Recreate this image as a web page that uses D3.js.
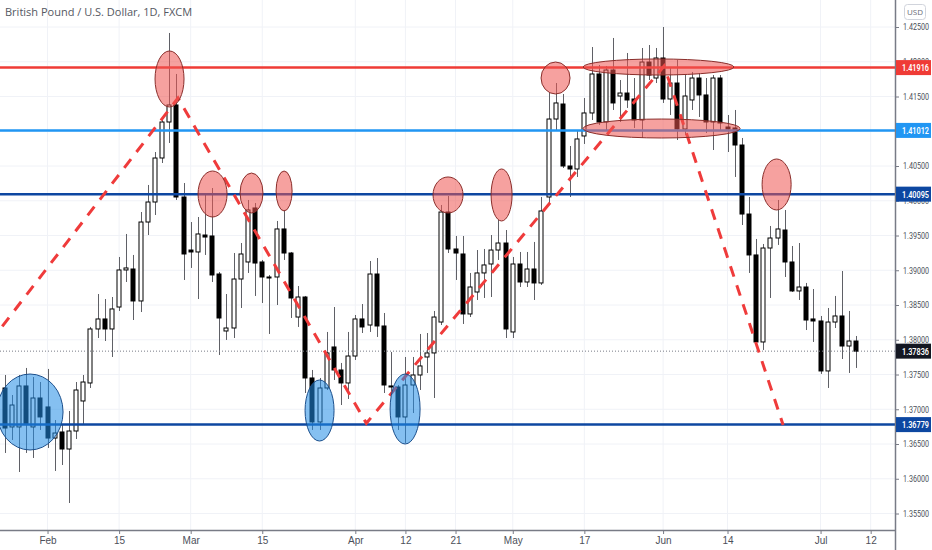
<!DOCTYPE html>
<html lang="en">
<head>
<meta charset="utf-8">
<title>British Pound / U.S. Dollar, 1D, FXCM</title>
<script src="https://d3js.org/d3.v7.min.js"></script>
<style>
  body { margin: 0; background: #fff; }
  svg { display: block; font-family: "Open Sans", "Noto Sans", sans-serif; }
</style>
</head>
<body>
<script>

// ---- data (GBPUSD daily) ----
const dates = [
  "2021-01-21","2021-01-22","2021-01-25","2021-01-26","2021-01-27","2021-01-28","2021-01-29",
  "2021-02-01","2021-02-02","2021-02-03","2021-02-04","2021-02-05","2021-02-08","2021-02-09","2021-02-10","2021-02-11","2021-02-12",
  "2021-02-15","2021-02-16","2021-02-17","2021-02-18","2021-02-19","2021-02-22","2021-02-23","2021-02-24","2021-02-25","2021-02-26",
  "2021-03-01","2021-03-02","2021-03-03","2021-03-04","2021-03-05","2021-03-08","2021-03-09","2021-03-10","2021-03-11","2021-03-12",
  "2021-03-15","2021-03-16","2021-03-17","2021-03-18","2021-03-19","2021-03-22","2021-03-23","2021-03-24","2021-03-25","2021-03-26",
  "2021-03-29","2021-03-30","2021-03-31",
  "2021-04-01","2021-04-02","2021-04-05","2021-04-06","2021-04-07","2021-04-08","2021-04-09","2021-04-12","2021-04-13","2021-04-14",
  "2021-04-15","2021-04-16","2021-04-19","2021-04-20","2021-04-21","2021-04-22","2021-04-23","2021-04-26","2021-04-27","2021-04-28",
  "2021-04-29","2021-04-30",
  "2021-05-03","2021-05-04","2021-05-05","2021-05-06","2021-05-07","2021-05-10","2021-05-11","2021-05-12","2021-05-13","2021-05-14",
  "2021-05-17","2021-05-18","2021-05-19","2021-05-20","2021-05-21","2021-05-24","2021-05-25","2021-05-26","2021-05-27","2021-05-28",
  "2021-05-31",
  "2021-06-01","2021-06-02","2021-06-03","2021-06-04","2021-06-07","2021-06-08","2021-06-09","2021-06-10","2021-06-11","2021-06-14",
  "2021-06-15","2021-06-16","2021-06-17","2021-06-18","2021-06-21","2021-06-22","2021-06-23","2021-06-24","2021-06-25","2021-06-28",
  "2021-06-29","2021-06-30",
  "2021-07-01","2021-07-02","2021-07-05","2021-07-06","2021-07-07","2021-07-08"
];
// empty future slots on the right of the chart
const futureDates = ["2021-07-09","2021-07-12","2021-07-13","2021-07-14","2021-07-15"];

const opens = [
  1.36730,1.37306,1.36745,1.36745,1.37335,1.36745,1.37162,
  1.37033,1.36586,1.36673,1.36428,1.36687,1.37119,1.37378,1.38155,1.38299,1.38155,
  1.38471,1.39004,1.39018,1.38558,1.39694,1.39982,1.40615,1.41133,1.41378,1.40054,
  1.39291,1.39263,1.39507,1.39493,1.38946,1.38126,1.38169,1.38874,1.39119,1.39896,
  1.39119,1.38903,1.38903,1.39594,1.39248,1.38327,1.38615,1.37450,1.36817,1.37306,
  1.37896,1.37565,1.37378,
  1.37766,1.38299,1.38212,1.38946,1.38198,1.37335,1.37320,1.36889,1.37349,1.37493,
  1.37752,1.37810,1.38255,1.39838,1.39306,1.39234,1.38371,1.38687,1.38961,1.39090,
  1.39291,1.39392,
  1.38112,1.39090,1.38831,1.39018,1.38817,1.40054,1.41176,1.41392,1.40500,1.40457,
  1.40932,1.41263,1.41824,1.41133,1.41881,1.41507,1.41550,1.41464,1.41162,1.41996,
  1.41766,
  1.42054,1.41464,1.41694,1.41032,1.41450,1.41766,1.41522,1.41133,1.41766,1.41061,
  1.41047,1.40802,1.39809,1.39220,1.37968,1.39320,1.39464,1.39579,1.39119,1.38702,
  1.38759,1.38299,
  1.38270,1.37551,1.38255,1.38342,1.37910,1.37982
];
const highs = [
  1.37421,1.37493,1.37205,1.37493,1.37594,1.37464,1.37392,
  1.37580,1.36845,1.36774,1.36975,1.37392,1.37493,1.38184,1.38658,1.38586,1.38615,
  1.39191,1.39522,1.39220,1.39838,1.40227,1.40701,1.41191,1.42414,1.41824,1.40255,
  1.39694,1.39766,1.40083,1.40183,1.38975,1.38658,1.39248,1.39392,1.40011,1.39968,
  1.39148,1.38932,1.39709,1.39867,1.39263,1.38773,1.38630,1.37565,1.37450,1.38112,
  1.38471,1.37666,1.38112,
  1.38356,1.38514,1.39133,1.39176,1.38385,1.37824,1.37349,1.37752,1.37752,1.38083,
  1.38097,1.38414,1.39939,1.40068,1.39493,1.39493,1.38961,1.39291,1.39306,1.39507,
  1.39723,1.39579,
  1.39191,1.39263,1.39263,1.39407,1.40054,1.41550,1.41694,1.41536,1.40788,1.41018,
  1.41478,1.42212,1.41953,1.41939,1.42342,1.41737,1.42126,1.41766,1.42198,1.42241,
  1.42198,
  1.42500,1.41910,1.42025,1.41809,1.41853,1.41838,1.41766,1.41809,1.41809,1.41234,
  1.41306,1.40903,1.40054,1.39450,1.39378,1.39637,1.40011,1.39867,1.39349,1.39392,
  1.38817,1.38730,
  1.38342,1.38457,1.38630,1.38989,1.38414,1.38054
];
const lows = [
  1.36457,1.36371,1.36558,1.36097,1.36371,1.36299,1.36702,
  1.36443,1.36112,1.36198,1.35651,1.36572,1.36788,1.37306,1.38025,1.37982,1.37752,
  1.38414,1.38831,1.38284,1.38399,1.39507,1.39795,1.40543,1.40831,1.40011,1.38860,
  1.39033,1.38586,1.39220,1.38831,1.37781,1.37997,1.38025,1.38457,1.38961,1.38630,
  1.38529,1.38083,1.38500,1.39148,1.38313,1.38184,1.37234,1.36702,1.36702,1.37277,
  1.37421,1.37061,1.37148,
  1.37709,1.38097,1.38112,1.38040,1.37234,1.37205,1.36702,1.36515,1.36946,1.37277,
  1.37522,1.37162,1.38212,1.39248,1.38860,1.38227,1.38327,1.38572,1.38601,1.38615,
  1.39148,1.38025,
  1.38025,1.38759,1.38759,1.38572,1.38788,1.39939,1.41018,1.40471,1.40054,1.40342,
  1.40817,1.41162,1.41090,1.41018,1.41306,1.41133,1.41335,1.41047,1.40903,1.41737,
  1.41694,
  1.41407,1.41234,1.40874,1.40946,1.41306,1.41205,1.40975,1.40730,1.41018,1.40701,
  1.40342,1.39651,1.38961,1.37910,1.37853,1.38601,1.39364,1.38903,1.38687,1.38572,
  1.38140,1.37968,
  1.37508,1.37306,1.38169,1.37723,1.37522,1.37594
];
const closes = [
  1.37205,1.36730,1.37061,1.37335,1.36788,1.37162,1.36889,
  1.36586,1.36658,1.36428,1.36687,1.37277,1.37392,1.38155,1.38299,1.38155,1.38443,
  1.39004,1.39033,1.38558,1.39694,1.39982,1.40615,1.41133,1.41378,1.40054,1.39234,
  1.39263,1.39522,1.39478,1.38932,1.38313,1.38169,1.38874,1.39234,1.39867,1.39104,
  1.38903,1.38889,1.39594,1.39248,1.38601,1.38615,1.37450,1.36817,1.37306,1.37810,
  1.37565,1.37378,1.37766,
  1.38299,1.38184,1.38946,1.38198,1.37349,1.37320,1.36889,1.37349,1.37493,1.37623,
  1.37810,1.38327,1.39838,1.39306,1.39248,1.38371,1.38759,1.38961,1.39076,1.39291,
  1.39392,1.38155,
  1.39090,1.38831,1.39018,1.38817,1.39853,1.41176,1.41407,1.40500,1.40457,1.40889,
  1.41263,1.41824,1.41133,1.41881,1.41407,1.41550,1.41450,1.41162,1.41996,1.41809,
  1.42054,
  1.41464,1.41694,1.41032,1.41507,1.41766,1.41522,1.41133,1.41766,1.41119,1.41032,
  1.40802,1.39809,1.39220,1.37968,1.39320,1.39464,1.39594,1.39119,1.38702,1.38759,
  1.38284,1.38270,
  1.37551,1.38255,1.38342,1.37910,1.37982,1.37836
];

// axis ticks
const priceTicks = [1.355, 1.360, 1.365, 1.370, 1.375, 1.380, 1.385, 1.390,
                    1.395, 1.400, 1.405, 1.410, 1.415, 1.420, 1.425];
const tickDates = ["2021-02-01","2021-02-15","2021-03-01","2021-03-15","2021-04-01","2021-04-12","2021-04-21",
                   "2021-05-03","2021-05-17","2021-06-01","2021-06-14","2021-07-01","2021-07-12"];
const tickLabels = ["Feb","15","Mar","15","Apr","12","21","May","17","Jun","14","Jul","12"];

// drawn levels and last price
const levelPrices = [1.41916, 1.41012, 1.40095, 1.36779];
const lastPrice = 1.37836;

// red zigzag drawing: [bar index, price]
const zigzag = [[-1.03, 1.37965], [25.23, 1.41478], [51.54, 1.36798], [93.14, 1.41939], [109.77, 1.36773]];

// highlight ellipses: [first bar, last bar, top price, bottom price]
const redMarks = [
  [22.02, 26.07, 1.42155, 1.41349],
  [28.03, 32.08, 1.40428, 1.39766],
  [33.90, 37.10, 1.40399, 1.39824],
  [38.93, 41.17, 1.40428, 1.39853],
  [60.86, 65.05, 1.40342, 1.39824],
  [68.97, 71.90, 1.40457, 1.39709],
  [75.95, 80.00, 1.41996, 1.41536],
  [81.82, 102.90, 1.42040, 1.41809],
  [81.82, 103.76, 1.41176, 1.40903],
  [106.83, 110.89, 1.40601, 1.39867]
];
const blueMarks = [
  [-0.06, 9.17, 1.37507, 1.36414],
  [42.98, 47.03, 1.37421, 1.36543],
  [54.86, 59.05, 1.37507, 1.36500]
];

// ---- layout ----
const width = 932;
const height = 550;
const plotRight = 895;
const plotBottom = 530;

const allDates = dates.concat(futureDates);
const candles = dates.map((d, i) => ({
  i: i, date: d, o: opens[i], h: highs[i], l: lows[i], c: closes[i]
}));

// scales
const x = d3.scaleLinear()
            .domain([0.36, 125.4])
            .range([0, plotRight]);

const y = d3.scaleLinear()
            .domain([1.355, 1.425])
            .range([513.5, 27]);

const svg = d3.select("body")
              .append("svg")
              .attr("width", width)
              .attr("height", height);

svg.append("defs").append("clipPath")
   .attr("id", "plot")
   .append("rect")
   .attr("x", 0).attr("y", 0)
   .attr("width", plotRight).attr("height", plotBottom);

const plot = svg.append("g").attr("clip-path", "url(#plot)");

// grid
plot.selectAll("line.hgrid")
    .data(priceTicks)
    .enter()
    .append("line")
    .attr("class", "hgrid")
    .attr("x1", 0).attr("x2", plotRight)
    .attr("y1", d => y(d)).attr("y2", d => y(d))
    .attr("stroke", "#f0f2f7");

plot.selectAll("line.vgrid")
    .data(tickDates)
    .enter()
    .append("line")
    .attr("class", "vgrid")
    .attr("x1", d => x(allDates.indexOf(d))).attr("x2", d => x(allDates.indexOf(d)))
    .attr("y1", 0).attr("y2", plotBottom)
    .attr("stroke", "#f0f2f7");

// candles
const barW = 5;
plot.selectAll("line.wick")
    .data(candles)
    .enter()
    .append("line")
    .attr("class", "wick")
    .attr("x1", d => Math.round(x(d.i)) + 0.5)
    .attr("x2", d => Math.round(x(d.i)) + 0.5)
    .attr("y1", d => y(d.h))
    .attr("y2", d => y(d.l))
    .attr("stroke", "#5f6066")
    .attr("stroke-width", 1);

plot.selectAll("rect.body")
    .data(candles)
    .enter()
    .append("rect")
    .attr("class", "body")
    .attr("x", d => Math.round(x(d.i)) - 2)
    .attr("y", d => y(Math.max(d.o, d.c)))
    .attr("width", barW - 1)
    .attr("height", d => Math.max(1, y(Math.min(d.o, d.c)) - y(Math.max(d.o, d.c))))
    .attr("fill", d => d.c >= d.o ? "#ffffff" : "#000000")
    .attr("stroke", "#000000")
    .attr("stroke-width", 1);

// current price dotted line
plot.append("line")
    .attr("x1", 0).attr("x2", plotRight)
    .attr("y1", y(lastPrice)).attr("y2", y(lastPrice))
    .attr("stroke", "#787b86")
    .attr("stroke-dasharray", "1,2");

// horizontal levels
const levelColors = ["#ef3b36", "#2196f3", "#0d47a1", "#0d47a1"];
plot.selectAll("line.level")
    .data(levelPrices)
    .enter()
    .append("line")
    .attr("class", "level")
    .attr("x1", 0).attr("x2", plotRight)
    .attr("y1", d => y(d)).attr("y2", d => y(d))
    .attr("stroke", (d, i) => levelColors[i])
    .attr("stroke-width", 2.5);

// zigzag
plot.append("path")
    .datum(zigzag)
    .attr("d", d3.line().x(d => x(d[0])).y(d => y(d[1])))
    .attr("fill", "none")
    .attr("stroke", "#ef3b3b")
    .attr("stroke-width", 3)
    .attr("stroke-dasharray", "11,9");

// ellipses
function drawMarks(list, fill, stroke) {
  plot.selectAll(null)
      .data(list)
      .enter()
      .append("ellipse")
      .attr("cx", d => (x(d[0]) + x(d[1])) / 2)
      .attr("cy", d => (y(d[2]) + y(d[3])) / 2)
      .attr("rx", d => (x(d[1]) - x(d[0])) / 2)
      .attr("ry", d => (y(d[3]) - y(d[2])) / 2)
      .attr("fill", fill)
      .attr("stroke", stroke)
      .attr("stroke-width", 1);
}
drawMarks(redMarks, "rgba(239,83,80,0.55)", "#8a2e2b");
drawMarks(blueMarks, "rgba(33,140,230,0.55)", "#1b4f8c");

// axes
const rightAxis = d3.axisRight(y)
                    .tickValues(priceTicks)
                    .tickSize(4)
                    .tickFormat(d3.format(".5f"));

const gy = svg.append("g")
              .attr("transform", "translate(" + plotRight + ",0)")
              .call(rightAxis);
gy.select(".domain").remove();
gy.selectAll("line").attr("stroke", "#787b86");
gy.selectAll("text")
  .attr("fill", "#4c4f5a")
  .attr("font-family", "Roboto, sans-serif")
  .attr("font-size", 9)
  .attr("text-anchor", "end")
  .attr("x", 34)
  .attr("textLength", 26)
  .attr("lengthAdjust", "spacingAndGlyphs");

const bottomAxis = d3.axisBottom(x)
                     .tickValues(tickDates.map(d => allDates.indexOf(d)))
                     .tickSize(4)
                     .tickFormat((d, i) => tickLabels[i]);

const gx = svg.append("g")
              .attr("transform", "translate(0," + plotBottom + ")")
              .call(bottomAxis);
gx.select(".domain").remove();
gx.selectAll("line").attr("stroke", "#787b86");
gx.selectAll("text").attr("fill", "#4c4f5a").attr("font-size", 10).attr("y", 7);

svg.append("line")
   .attr("x1", 0).attr("x2", plotRight)
   .attr("y1", plotBottom + 0.5).attr("y2", plotBottom + 0.5)
   .attr("stroke", "#787b86").attr("stroke-width", 1.5);
svg.append("line")
   .attr("x1", plotRight + 0.5).attr("x2", plotRight + 0.5)
   .attr("y1", 0).attr("y2", height)
   .attr("stroke", "#787b86").attr("stroke-width", 1.5);

// price tags on the axis
const tags = levelPrices.map((p, i) => ({ p: p, color: levelColors[i] }))
                        .concat([{ p: lastPrice, color: "#131722" }]);
const tag = svg.selectAll("g.tag")
               .data(tags)
               .enter()
               .append("g")
               .attr("class", "tag")
               .attr("transform", d => "translate(" + (plotRight + 1) + "," + y(d.p) + ")");
tag.append("rect")
   .attr("x", 0).attr("y", -7.5)
   .attr("width", 35).attr("height", 15)
   .attr("fill", d => d.color);
tag.append("text")
   .attr("x", 33).attr("y", 3.5)
   .attr("text-anchor", "end")
   .attr("fill", "#ffffff")
   .attr("font-family", "Roboto, sans-serif")
   .attr("font-size", 9)
   .attr("font-weight", 600)
   .attr("textLength", 27)
   .attr("lengthAdjust", "spacingAndGlyphs")
   .text(d => d3.format(".5f")(d.p));

// currency box
svg.append("rect")
   .attr("x", 904.5).attr("y", 4.5)
   .attr("width", 21).attr("height", 15)
   .attr("rx", 3)
   .attr("fill", "#ffffff")
   .attr("stroke", "#d1d4dc");
svg.append("text")
   .attr("x", 915).attr("y", 15)
   .attr("text-anchor", "middle")
   .attr("fill", "#6a6d78")
   .attr("font-size", 8)
   .text("USD");

// title
svg.append("text")
   .attr("x", 5).attr("y", 16)
   .attr("fill", "#555862")
   .attr("font-size", 11)
   .text("British Pound / U.S. Dollar, 1D, FXCM");

</script>
</body>
</html>
